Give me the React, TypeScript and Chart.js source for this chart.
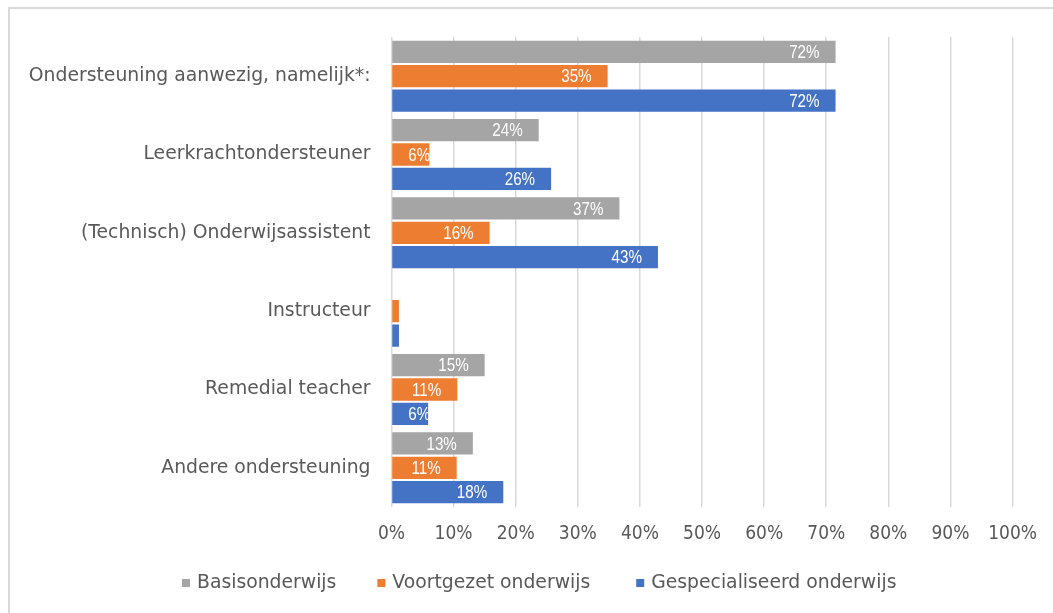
import React, { useEffect, useRef } from "react";
import { Chart, registerables } from "chart.js";

Chart.register(...registerables);

const categories = [
  "Ondersteuning aanwezig, namelijk*:",
  "Leerkrachtondersteuner",
  "(Technisch) Onderwijsassistent",
  "Instructeur",
  "Remedial teacher",
  "Andere ondersteuning",
];
const seriesNames = ["Basisonderwijs", "Voortgezet onderwijs", "Gespecialiseerd onderwijs"];
const basisonderwijs = [71.5, 23.7, 36.7, 0, 15.0, 13.1];
const voortgezetOnderwijs = [34.8, 6.1, 15.8, 1.2, 10.6, 10.5];
const gespecialiseerdOnderwijs = [71.5, 25.7, 42.9, 1.2, 5.9, 18.0];
const seriesColors = ["#A5A5A5", "#ED7D31", "#4472C4"];
const xTicks = [0, 10, 20, 30, 40, 50, 60, 70, 80, 90, 100];

const TEXT = "#595959";
const CAT_FONT = "'DejaVu Sans', sans-serif";
const NUM_FONT = "'Liberation Sans Narrow', 'DejaVu Sans Condensed', 'Liberation Sans', sans-serif";
const LABEL_FONT = "'Liberation Sans', Arial, sans-serif";
const LABEL_SQUEEZE = 0.8;

const labelPlugin = {
  id: "barLabels",
  afterDatasetsDraw(chart: any) {
    const ctx = chart.ctx;
    ctx.save();
    ctx.font = `19px ${LABEL_FONT}`;
    ctx.fillStyle = "#FFFFFF";
    ctx.textBaseline = "middle";
    ctx.textAlign = "left";
    chart.data.datasets.forEach((ds: any, di: number) => {
      const meta = chart.getDatasetMeta(di);
      meta.data.forEach((bar: any, i: number) => {
        const v = ds.data[i];
        if (v < 2) return;
        const txt = Math.round(v) + "%";
        const w = ctx.measureText(txt).width * LABEL_SQUEEZE;
        let left = bar.x - 16 - w;
        if (left < bar.base + 16) left = bar.base + 16;
        ctx.save();
        ctx.translate(left, bar.y + 1);
        ctx.scale(LABEL_SQUEEZE, 1);
        ctx.fillText(txt, 0, 0);
        ctx.restore();
      });
    });
    ctx.restore();
  },
};

const legendPlugin = {
  id: "customLegend",
  afterDraw(chart: any) {
    const ctx = chart.ctx;
    ctx.save();
    ctx.font = `18.8px ${CAT_FONT}`;
    ctx.textBaseline = "middle";
    ctx.textAlign = "left";
    const box = 8;
    const gapBoxText = 7;
    const gapItems = [41, 46];
    let x = 182;
    const y = 583;
    chart.data.datasets.forEach((ds: any, i: number) => {
      const w = ctx.measureText(ds.label).width;
      ctx.fillStyle = ds.backgroundColor;
      ctx.fillRect(x, y - box / 2, box, box);
      x += box + gapBoxText;
      ctx.fillStyle = TEXT;
      ctx.fillText(ds.label, x, y);
      x += w + (gapItems[i] || 0);
    });
    ctx.restore();
  },
};

export default function App() {
  const ref = useRef<HTMLCanvasElement | null>(null);

  useEffect(() => {
    if (!ref.current) return;
    const seriesData = [basisonderwijs, voortgezetOnderwijs, gespecialiseerdOnderwijs];
    const chart = new Chart(ref.current, {
      type: "bar",
      data: {
        labels: categories,
        datasets: seriesNames.map((name, i) => ({
          label: name,
          data: seriesData[i],
          backgroundColor: seriesColors[i],
          borderWidth: 0,
          categoryPercentage: 0.934,
          barPercentage: 0.914,
        })),
      },
      options: {
        indexAxis: "y",
        responsive: false,
        animation: false,
        devicePixelRatio: 1,
        layout: { padding: { top: 37, right: 40, bottom: 0, left: 0 } },
        plugins: {
          legend: { display: false },
          tooltip: { enabled: false },
        },
        scales: {
          x: {
            min: 0,
            max: 100,
            afterBuildTicks: (s: any) => {
              s.ticks = xTicks.map((v) => ({ value: v }));
            },
            afterFit: (s: any) => {
              s.height = 106;
            },
            ticks: {
              padding: 16,
              color: TEXT,
              font: { family: NUM_FONT, size: 19 },
              callback: (v: any) => v + "%",
              maxRotation: 0,
              autoSkip: false,
            },
            grid: { color: "#D9D9D9", lineWidth: 1.5, drawTicks: false },
            border: { display: false },
          },
          y: {
            afterFit: (s: any) => {
              s.width = 391.5;
            },
            ticks: {
              padding: 21,
              color: TEXT,
              font: { family: CAT_FONT, size: 18.8 },
              autoSkip: false,
            },
            grid: { display: false, drawTicks: false },
            border: { display: false },
          },
        },
      },
      plugins: [labelPlugin, legendPlugin],
    });
    return () => chart.destroy();
  }, []);

  return (
    <>
      <div
        style={{
          position: "fixed",
          left: 8,
          top: 7,
          width: 1045,
          height: 606,
          boxSizing: "border-box",
          borderTop: "2px solid #D9D9D9",
          borderLeft: "2px solid #D9D9D9",
          background: "#FFFFFF",
        }}
      />
      <canvas
        ref={ref}
        width={1053}
        height={613}
        style={{ position: "fixed", left: 0, top: 0, width: 1053, height: 613 }}
      />
    </>
  );
}
